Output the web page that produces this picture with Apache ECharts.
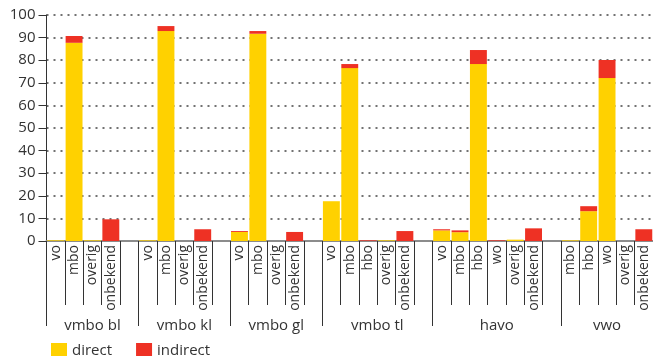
<!DOCTYPE html>
<html>
<head>
<meta charset="utf-8">
<script src="https://cdn.jsdelivr.net/npm/echarts@6/dist/echarts.min.js"></script>
<style>
html,body{margin:0;padding:0;background:#fff;}
#c{width:653px;height:356px;}
</style>
</head>
<body>
<div id="c"></div>
<script>
var groups = ['vmbo bl', 'vmbo kl', 'vmbo gl', 'vmbo tl', 'havo', 'vwo'];
var subcats = [
  ['vo', 'mbo', 'overig', 'onbekend'],
  ['vo', 'mbo', 'overig', 'onbekend'],
  ['vo', 'mbo', 'overig', 'onbekend'],
  ['vo', 'mbo', 'hbo', 'overig', 'onbekend'],
  ['vo', 'mbo', 'hbo', 'wo', 'overig', 'onbekend'],
  ['mbo', 'hbo', 'wo', 'overig', 'onbekend']
];
var direct = [
  [0.3, 87.7, 0.3, 0],
  [0.3, 92.9, 0, 0],
  [4.0, 91.7, 0, 0],
  [17.6, 76.5, 0, 0.3, 0],
  [4.7, 3.9, 78.3, 0, 0.6, 0],
  [0.3, 13.2, 72.1, 0, 0]
];
var indirect = [
  [0, 3.0, 0, 9.6],
  [0, 2.2, 0, 5.2],
  [0.4, 1.2, 0, 4.0],
  [0, 1.8, 0.3, 0, 4.4],
  [0.5, 0.8, 6.2, 0.3, 0, 5.6],
  [0, 2.2, 8.0, 0, 5.2]
];
var yTicks = [0, 10, 20, 30, 40, 50, 60, 70, 80, 90, 100];

// build flat category list with an empty slot between groups
var cats = [], dData = [], iData = [], bounds = [], centers = [];
for (var g = 0; g < groups.length; g++) {
  var start = cats.length;
  bounds.push(start);
  for (var k = 0; k < subcats[g].length; k++) {
    cats.push(subcats[g][k]);
    dData.push(direct[g][k]);
    iData.push(indirect[g][k]);
  }
  if (g < groups.length - 1) { cats.push(''); dData.push('-'); iData.push('-'); }
  centers.push((start + cats.length) / 2);
}
bounds.push(cats.length);

var font = 'Open Sans';
var chart = echarts.init(document.getElementById('c'));
chart.setOption({
  animation: false,
  textStyle: { fontFamily: font },
  grid: { left: 46.5, right: 0, top: 15, bottom: 115, containLabel: false },
  legend: {
    left: 46, top: 338,
    itemWidth: 16, itemHeight: 16, itemGap: 24,
    icon: 'rect',
    textStyle: { fontFamily: font, fontSize: 15, color: '#333' },
    data: ['direct', 'indirect']
  },
  xAxis: [
    {
      type: 'category', data: cats, boundaryGap: true,
      axisLine: { show: true, lineStyle: { color: '#8c8c8c', width: 2 } },
      axisTick: { show: true, interval: 0, length: 64, lineStyle: { color: '#333', width: 1 } },
      axisLabel: { interval: 0, rotate: 90, fontSize: 14, color: '#333', margin: 4, fontFamily: font }
    },
    {
      type: 'value', min: 0, max: cats.length, position: 'bottom',
      axisLine: { show: false },
      splitLine: { show: false },
      axisTick: { show: true, customValues: bounds, length: 85, lineStyle: { color: '#333', width: 1 } },
      axisLabel: {
        customValues: centers, margin: 77, fontSize: 15, color: '#333', fontFamily: font,
        formatter: function (v) {
          for (var i = 0; i < centers.length; i++) { if (Math.abs(centers[i] - v) < 1e-6) return groups[i]; }
          return '';
        }
      }
    }
  ],
  yAxis: {
    type: 'value', min: 0, max: 100, interval: 10,
    axisLine: { show: true, lineStyle: { color: '#333', width: 1 } },
    axisTick: { show: true, length: 8, lineStyle: { color: '#333' } },
    axisLabel: { fontSize: 15, color: '#333', margin: 11, fontFamily: font,
      formatter: function (v) { return yTicks.indexOf(v) >= 0 ? String(v) : ''; } },
    splitLine: { show: true, lineStyle: { color: '#444', type: [2, 5], width: 1.5 } }
  },
  series: [
    { name: 'direct', type: 'bar', stack: 'a', data: dData, barWidth: '92%',
      itemStyle: { color: '#FFD100' } },
    { name: 'indirect', type: 'bar', stack: 'a', data: iData, barWidth: '92%',
      itemStyle: { color: '#EE3124' } }
  ]
});
</script>
</body>
</html>
